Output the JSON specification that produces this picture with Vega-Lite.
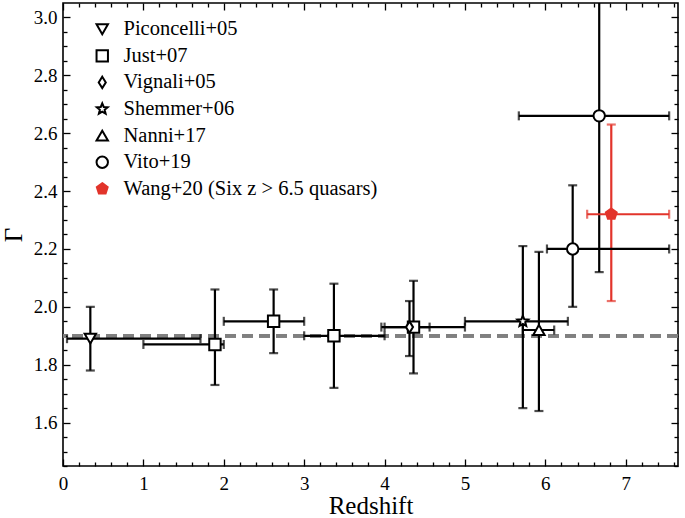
{
  "$schema": "https://vega.github.io/schema/vega-lite/v6.json",
  "width": 615,
  "height": 463,
  "autosize": {"type": "none"},
  "padding": {"left": 63, "top": 3, "right": 7, "bottom": 52},
  "background": "white",
  "config": {
    "view": {"stroke": "black", "strokeWidth": 1.6},
    "font": "Liberation Serif",
    "axis": {"grid": false, "domain": false, "tickColor": "black", "tickWidth": 1.3, "labelColor": "black", "titleColor": "black", "labelFont": "Liberation Serif", "titleFont": "Liberation Serif", "labelFontSize": 19, "titleFontSize": 25, "titleFontWeight": "normal", "labelFlush": false, "labelOverlap": false}
  },
  "data": {
    "values": [
      {"src": "Piconcelli+05", "z": 0.34, "zlo": 0.05, "zhi": 1.71, "g": 1.89, "glo": 1.78, "ghi": 2.0},
      {"src": "Just+07", "z": 1.89, "zlo": 1.0, "zhi": 2.0, "g": 1.87, "glo": 1.73, "ghi": 2.06},
      {"src": "Just+07", "z": 2.62, "zlo": 2.0, "zhi": 3.0, "g": 1.95, "glo": 1.84, "ghi": 2.06},
      {"src": "Just+07", "z": 3.37, "zlo": 3.0, "zhi": 4.0, "g": 1.9, "glo": 1.72, "ghi": 2.08},
      {"src": "Just+07", "z": 4.36, "zlo": 4.0, "zhi": 5.0, "g": 1.93, "glo": 1.77, "ghi": 2.09},
      {"src": "Vignali+05", "z": 4.31, "zlo": 3.96, "zhi": 4.56, "g": 1.93, "glo": 1.83, "ghi": 2.02},
      {"src": "Shemmer+06", "z": 5.72, "zlo": 5.0, "zhi": 6.28, "g": 1.95, "glo": 1.65, "ghi": 2.21},
      {"src": "Nanni+17", "z": 5.92, "zlo": 5.72, "zhi": 6.11, "g": 1.92, "glo": 1.64, "ghi": 2.19},
      {"src": "Vito+19", "z": 6.34, "zlo": 6.02, "zhi": 7.54, "g": 2.2, "glo": 2.0, "ghi": 2.42},
      {"src": "Vito+19", "z": 6.67, "zlo": 5.67, "zhi": 7.54, "g": 2.66, "glo": 2.12, "ghi": 3.3},
      {"src": "Wang+20 (Six z > 6.5 quasars)", "z": 6.82, "zlo": 6.52, "zhi": 7.54, "g": 2.32, "glo": 2.02, "ghi": 2.63}
    ]
  },
  "resolve": {"axis": {"x": "independent", "y": "independent"}},
  "layer": [
    {
      "mark": {"type": "rule", "color": "#808080", "strokeWidth": 3, "strokeDash": [11, 6]},
      "encoding": {
        "y": {"datum": 1.9, "type": "quantitative", "scale": {"domain": [1.45, 3.05], "nice": false, "zero": false}, "axis": null}
      }
    },
    {
      "mark": {"type": "rule", "strokeWidth": 2.2, "clip": true},
      "encoding": {
        "x": {"field": "z", "type": "quantitative", "scale": {"domain": [0, 7.65], "nice": false, "zero": false},
          "axis": {"orient": "bottom", "values": [0.2,0.4,0.6,0.8,1.2,1.4,1.6,1.8,2.2,2.4,2.6,2.8,3.2,3.4,3.6,3.8,4.2,4.4,4.6,4.8,5.2,5.4,5.6,5.8,6.2,6.4,6.6,6.8,7.2,7.4,7.6], "tickSize": -4, "labels": false, "title": null}},
        "y": {"field": "glo", "type": "quantitative", "scale": {"domain": [1.45, 3.05], "nice": false, "zero": false},
          "axis": {"orient": "left", "values": [1.45,1.5,1.55,1.65,1.7,1.75,1.85,1.9,1.95,2.05,2.1,2.15,2.25,2.3,2.35,2.45,2.5,2.55,2.65,2.7,2.75,2.85,2.9,2.95], "tickSize": -4, "labels": false, "title": null}},
        "y2": {"field": "ghi"},
        "color": {"field": "src", "type": "nominal", "scale": {"range": ["black", "black", "black", "black", "black", "black", "#e2342b"]}, "legend": null}
      }
    },
    {
      "mark": {"type": "rule", "strokeWidth": 2.2, "clip": true},
      "encoding": {
        "x": {"field": "zlo", "type": "quantitative", "scale": {"domain": [0, 7.65], "nice": false, "zero": false},
          "axis": {"orient": "top", "values": [0,1,2,3,4,5,6,7], "tickSize": -7, "labels": false, "title": null}},
        "x2": {"field": "zhi"},
        "y": {"field": "g", "type": "quantitative", "scale": {"domain": [1.45, 3.05], "nice": false, "zero": false},
          "axis": {"orient": "right", "values": [1.6,1.8,2.0,2.2,2.4,2.6,2.8,3.0], "tickSize": -7, "labels": false, "title": null}},
        "color": {"field": "src", "type": "nominal", "legend": null}
      }
    },
    {
      "mark": {"type": "tick", "orient": "horizontal", "size": 9, "thickness": 2.2, "clip": true},
      "encoding": {
        "x": {"field": "z", "type": "quantitative", "scale": {"domain": [0, 7.65], "nice": false, "zero": false},
          "axis": {"orient": "top", "values": [0.2,0.4,0.6,0.8,1.2,1.4,1.6,1.8,2.2,2.4,2.6,2.8,3.2,3.4,3.6,3.8,4.2,4.4,4.6,4.8,5.2,5.4,5.6,5.8,6.2,6.4,6.6,6.8,7.2,7.4,7.6], "tickSize": -4, "labels": false, "title": null}},
        "y": {"field": "ghi", "type": "quantitative", "scale": {"domain": [1.45, 3.05], "nice": false, "zero": false},
          "axis": {"orient": "right", "values": [1.45,1.5,1.55,1.65,1.7,1.75,1.85,1.9,1.95,2.05,2.1,2.15,2.25,2.3,2.35,2.45,2.5,2.55,2.65,2.7,2.75,2.85,2.9,2.95], "tickSize": -4, "labels": false, "title": null}},
        "color": {"field": "src", "type": "nominal", "legend": null}
      }
    },
    {
      "mark": {"type": "tick", "orient": "horizontal", "size": 9, "thickness": 2.2, "clip": true},
      "encoding": {
        "x": {"field": "z", "type": "quantitative", "axis": null},
        "y": {"field": "glo", "type": "quantitative", "axis": null},
        "color": {"field": "src", "type": "nominal", "legend": null}
      }
    },
    {
      "mark": {"type": "tick", "orient": "vertical", "size": 9, "thickness": 2.2, "clip": true},
      "encoding": {
        "x": {"field": "zlo", "type": "quantitative", "axis": null},
        "y": {"field": "g", "type": "quantitative", "axis": null},
        "color": {"field": "src", "type": "nominal", "legend": null}
      }
    },
    {
      "mark": {"type": "tick", "orient": "vertical", "size": 9, "thickness": 2.2, "clip": true},
      "encoding": {
        "x": {"field": "zhi", "type": "quantitative", "axis": null},
        "y": {"field": "g", "type": "quantitative", "axis": null},
        "color": {"field": "src", "type": "nominal", "legend": null}
      }
    },
    {
      "mark": {"type": "point", "filled": true, "strokeWidth": 2, "opacity": 1, "size": 130},
      "encoding": {
        "x": {"field": "z", "type": "quantitative", "scale": {"domain": [0, 7.65], "nice": false, "zero": false},
          "axis": {"orient": "bottom", "values": [0,1,2,3,4,5,6,7], "tickSize": -7, "labelPadding": 15, "title": "Redshift", "titlePadding": 0}},
        "y": {"field": "g", "type": "quantitative", "scale": {"domain": [1.45, 3.05], "nice": false, "zero": false},
          "axis": {"orient": "left", "values": [1.6,1.8,2.0,2.2,2.4,2.6,2.8,3.0], "format": ".1f", "tickSize": -7, "labelPadding": 13, "title": "Γ", "titlePadding": 7}},
        "shape": {"field": "src", "type": "nominal",
          "scale": {"domain": ["Piconcelli+05", "Just+07", "Vignali+05", "Shemmer+06", "Nanni+17", "Vito+19", "Wang+20 (Six z > 6.5 quasars)"],
            "range": ["triangle-down", "square", "M0,-1L0.62,0L0,1L-0.62,0Z", "M0,-1L0.26,-0.36L0.951,-0.309L0.42,0.137L0.588,0.809L0,0.44L-0.588,0.809L-0.42,0.137L-0.951,-0.309L-0.26,-0.36Z", "triangle-up", "circle", "M0,-1L0.951,-0.309L0.588,0.809L-0.588,0.809L-0.951,-0.309Z"]},
          "legend": {"title": null, "orient": "none", "legendX": 29, "legendY": 16, "labelFont": "Liberation Serif", "labelFontSize": 20.5, "labelColor": "black", "labelLimit": 400, "symbolSize": 130, "symbolStrokeWidth": 2, "rowPadding": 5.6, "labelOffset": 11, "padding": 0}},
        "fill": {"field": "src", "type": "nominal",
          "scale": {"domain": ["Piconcelli+05", "Just+07", "Vignali+05", "Shemmer+06", "Nanni+17", "Vito+19", "Wang+20 (Six z > 6.5 quasars)"], "range": ["white", "white", "white", "white", "white", "white", "#e2342b"]},
          "legend": {"title": null}},
        "stroke": {"field": "src", "type": "nominal",
          "scale": {"domain": ["Piconcelli+05", "Just+07", "Vignali+05", "Shemmer+06", "Nanni+17", "Vito+19", "Wang+20 (Six z > 6.5 quasars)"], "range": ["black", "black", "black", "black", "black", "black", "#e2342b"]},
          "legend": {"title": null}}
      }
    }
  ]
}
